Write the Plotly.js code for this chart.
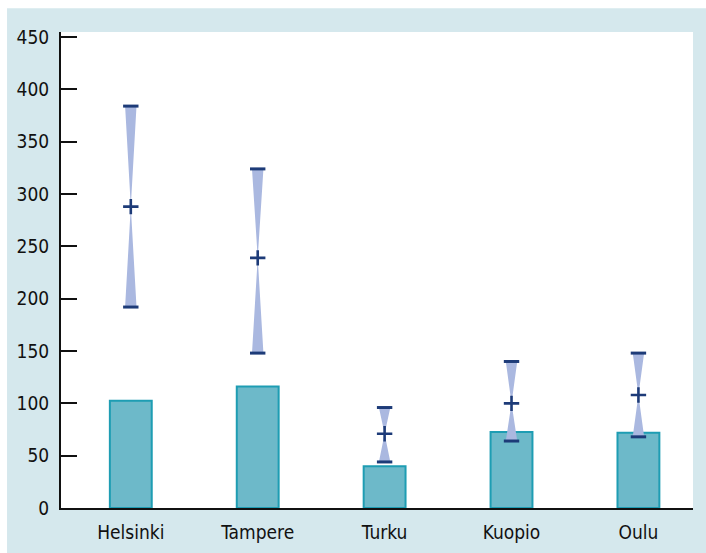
<!DOCTYPE html>
<html>
<head>
<meta charset="utf-8">
<script src="https://cdn.plot.ly/plotly-3.0.1.min.js"></script>
<style>html,body{margin:0;padding:0;background:#fff;}#chart{width:706px;height:553px;}</style>
</head>
<body>
<div id="chart"></div>
<script>
const cities = ["Helsinki", "Tampere", "Turku", "Kuopio", "Oulu"];
const barValues = [102.5, 116, 40, 72.5, 72];
const estCenter = [288, 239, 71, 100, 108];
const estLow = [192, 148, 44, 64, 68];
const estHigh = [384, 324, 96, 140, 148];
const yTicks = [0, 50, 100, 150, 200, 250, 300, 350, 400, 450];

const idx = cities.map((c, i) => i);
const halfW = 0.045;

// bowtie polygons
const bx = [], by = [];
idx.forEach(i => {
  bx.push(i - halfW, i + halfW, i, i - halfW, null);
  by.push(estHigh[i], estHigh[i], estCenter[i], estHigh[i], null);
  bx.push(i - halfW, i + halfW, i, i - halfW, null);
  by.push(estLow[i], estLow[i], estCenter[i], estLow[i], null);
});

const font = {family: '"DejaVu Sans Condensed", "Liberation Sans Narrow", sans-serif', size: 19, color: '#111'};

const traces = [
  {type: 'bar', x: idx, y: barValues, width: 0.33,
   marker: {color: '#6db9c9', line: {color: '#1e9db3', width: 2}}, hoverinfo: 'skip'},
  {type: 'scatter', mode: 'lines', x: bx, y: by, fill: 'toself', fillcolor: '#aab8e0',
   line: {width: 0, color: 'rgba(0,0,0,0)'}, hoverinfo: 'skip'},
  {type: 'scatter', mode: 'markers', x: idx.concat(idx), y: estHigh.concat(estLow),
   marker: {symbol: 'line-ew', size: 11, line: {width: 3, color: '#1d3b78'}}, hoverinfo: 'skip'},
  {type: 'scatter', mode: 'markers', x: idx, y: estCenter,
   marker: {symbol: 'cross-thin', size: 11, line: {width: 2.6, color: '#1d3b78'}}, hoverinfo: 'skip'}
];

const layout = {
  width: 706, height: 553,
  margin: {l: 61, r: 13, t: 32, b: 45, pad: 0},
  paper_bgcolor: '#d5e8ed',
  plot_bgcolor: '#ffffff',
  showlegend: false,
  font: font,
  xaxis: {range: [-0.55, 4.43], tickvals: idx, ticktext: cities, showgrid: false, zeroline: false,
          showline: true, linecolor: '#111', linewidth: 2, ticks: '', tickfont: font, fixedrange: true,
          ticklabelstandoff: 6},
  yaxis: {range: [0, 454.8], tickvals: yTicks, showgrid: false, zeroline: false,
          showline: true, linecolor: '#111', linewidth: 2, ticks: 'inside', ticklen: 16, tickwidth: 2,
          tickcolor: '#111', tickfont: font, fixedrange: true, ticklabelstandoff: 6},
  shapes: [
    {type: 'rect', xref: 'paper', yref: 'paper', x0: -0.2, x1: 1.1, y0: 1.05, y1: 1.2, fillcolor: '#ffffff', line: {width: 0}, layer: 'below'},
    {type: 'rect', xref: 'paper', yref: 'paper', x0: -0.2, x1: -0.0854, y0: -0.2, y1: 1.2, fillcolor: '#ffffff', line: {width: 0}, layer: 'below'}
  ]
};

Plotly.newPlot('chart', traces, layout, {displayModeBar: false, staticPlot: true});
</script>
</body>
</html>
